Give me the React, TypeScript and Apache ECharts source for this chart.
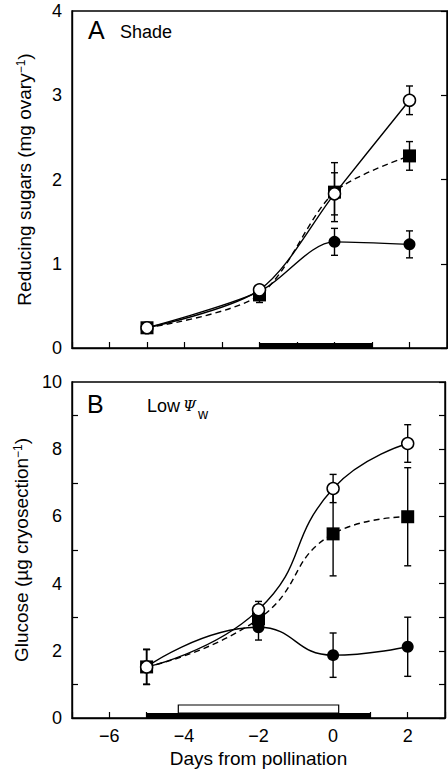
import React, { useEffect, useRef } from 'react';
import * as echarts from 'echarts';

// ---- Data ----
const days = [-5, -2, 0, 2];

// Panel A: Shade, reducing sugars (mg ovary^-1)
const shadeOpen = [0.24, 0.69, 1.83, 2.94];
const shadeOpenErr = [0.03, 0.05, 0.25, 0.17];
const shadeSquare = [0.24, 0.63, 1.85, 2.28];
const shadeSquareErr = [0.03, 0.09, 0.35, 0.17];
const shadeFilled = [0.24, 0.67, 1.26, 1.23];
const shadeFilledErr = [0.03, 0.05, 0.16, 0.16];

// Panel B: Low water potential, glucose (µg cryosection^-1)
const lowOpen = [1.52, 3.22, 6.83, 8.17];
const lowOpenErr = [0.52, 0.25, 0.42, 0.56];
const lowSquare = [1.52, 2.95, 5.48, 5.99];
const lowSquareErr = [0.52, 0.2, 1.25, 1.46];
const lowFilled = [1.52, 2.7, 1.87, 2.12];
const lowFilledErr = [0.52, 0.38, 0.66, 0.88];

// Treatment period bars [start, end] in days
const shadeBlackBar = [[-2, 1]];
const lowBlackBar = [[-5, 1]];
const lowWhiteBar = [[-4.15, 0.15]];

const xLabelValues = [-6, -4, -2, 0, 2];

const FONT = '"Liberation Sans", Arial, Helvetica, sans-serif';

function pts(ys: number[]) {
  return days.map((d, i) => [d, ys[i]]);
}
function errPts(ys: number[], es: number[]) {
  return days.map((d, i) => [d, ys[i], es[i]]);
}

const errorRender = (params: any, api: any) => {
  const x = api.value(0);
  const y = api.value(1);
  const e = api.value(2);
  const top = api.coord([x, y + e]);
  const bot = api.coord([x, y - e]);
  const hw = 3.5;
  const st = { stroke: '#000', lineWidth: 1.4 };
  return {
    type: 'group',
    children: [
      { type: 'line', shape: { x1: top[0], y1: top[1], x2: bot[0], y2: bot[1] }, style: st },
      { type: 'line', shape: { x1: top[0] - hw, y1: top[1], x2: top[0] + hw, y2: top[1] }, style: st },
      { type: 'line', shape: { x1: bot[0] - hw, y1: bot[1], x2: bot[0] + hw, y2: bot[1] }, style: st },
    ],
  };
};

const barRender = (offTop: number, offBot: number, fill: string) => (params: any, api: any) => {
  const p0 = api.coord([api.value(0), 0]);
  const p1 = api.coord([api.value(1), 0]);
  return {
    type: 'rect',
    shape: { x: p0[0], y: p0[1] - offTop, width: p1[0] - p0[0], height: offTop - offBot },
    style: { fill, stroke: '#000', lineWidth: fill === '#000' ? 0 : 1.2 },
  };
};

function seriesFor(idx: number, open: number[], oe: number[], sq: number[], se: number[], fi: number[], fe: number[], smooth: number) {
  const base = { xAxisIndex: idx, yAxisIndex: idx * 2 };
  const line = (data: number[], dashed: boolean) => ({
    ...base,
    type: 'line',
    data: pts(data),
    smooth,
    showSymbol: false,
    symbol: 'none',
    lineStyle: { color: '#000', width: 1.4, type: dashed ? [6, 4] : 'solid' },
    z: 2,
    silent: true,
  });
  const err = (ys: number[], es: number[]) => ({
    ...base,
    type: 'custom',
    data: errPts(ys, es),
    encode: { x: 0, y: 1 },
    renderItem: errorRender,
    z: 3,
    silent: true,
  });
  const mark = (data: number[], symbol: string, color: string, z: number) => ({
    ...base,
    type: 'scatter',
    data: pts(data),
    symbol,
    symbolSize: symbol === 'rect' ? 13 : 12,
    itemStyle: { color, borderColor: '#000', borderWidth: color === '#fff' ? 1.5 : 0, opacity: 1 },
    z,
    silent: true,
  });
  return [
    line(fi, false),
    line(sq, true),
    line(open, false),
    err(fi, fe),
    err(sq, se),
    err(open, oe),
    mark(fi, 'circle', '#000', 4),
    mark(sq, 'rect', '#000', 5),
    mark(open, 'circle', '#fff', 6),
  ];
}

const App: React.FC = () => {
  const ref = useRef<HTMLDivElement>(null);
  useEffect(() => {
    if (!ref.current) return;
    const chart = echarts.init(ref.current, null, { renderer: 'svg' });
    const grids = [
      { left: 72, top: 11, width: 375, height: 337 },
      { left: 72, top: 382, width: 375, height: 336 },
    ];
    const xAxisBase = (gi: number, showLabels: boolean) => ({
      type: 'value',
      gridIndex: gi,
      min: -7,
      max: 3,
      interval: 1,
      axisLine: { show: true, onZero: false, lineStyle: { color: '#000', width: 1.4 } },
      axisTick: { show: true, inside: true, length: 6, lineStyle: { color: '#000', width: 1.2 } },
      splitLine: { show: false },
      axisLabel: {
        show: showLabels,
        margin: 9,
        fontSize: 18,
        fontFamily: FONT,
        color: '#000',
        formatter: (v: number) =>
          xLabelValues.indexOf(v) >= 0 ? (v < 0 ? '\u2212' + Math.abs(v) : String(v)) : '',
      },
      name: showLabels ? 'Days from pollination' : '',
      nameLocation: 'middle',
      nameGap: 31,
      nameTextStyle: { fontSize: 19, fontFamily: FONT, color: '#000' },
    });
    const yLeft = (gi: number, max: number, interval: number, minor: boolean, nameMain: string) => ({
      type: 'value',
      gridIndex: gi,
      position: 'left',
      min: 0,
      max,
      interval,
      axisLine: { show: true, onZero: false, lineStyle: { color: '#000', width: 1.4 } },
      axisTick: { show: false, inside: true },
      minorTick: { show: minor, splitNumber: 2, length: 6, lineStyle: { color: '#000', width: 1.2 } },
      splitLine: { show: false },
      minorSplitLine: { show: false },
      axisLabel: { margin: 10, fontSize: 18, fontFamily: FONT, color: '#000' },
      name: '{n|' + nameMain + '}{s|\u22121}{n|)}',
      nameLocation: 'middle',
      nameGap: 38,
      nameTextStyle: {
        fontFamily: FONT,
        color: '#000',
        rich: {
          n: { fontSize: 19, fontFamily: FONT, color: '#000' },
          s: { fontSize: 12, fontFamily: FONT, color: '#000', verticalAlign: 'top' },
        },
      },
    });
    const yRight = (gi: number, max: number) => ({
      type: 'value',
      gridIndex: gi,
      position: 'right',
      min: 0,
      max,
      interval: 1,
      axisLine: { show: true, onZero: false, lineStyle: { color: '#000', width: 1.4 } },
      axisTick: { show: true, inside: true, length: 6, lineStyle: { color: '#000', width: 1.2 } },
      splitLine: { show: false },
      axisLabel: { show: false },
    });

    const option: any = {
      animation: false,
      backgroundColor: '#fff',
      grid: grids.map((g) => ({ ...g, show: true, borderColor: '#000', borderWidth: 1.4, backgroundColor: 'transparent' })),
      xAxis: [xAxisBase(0, false), xAxisBase(1, true)],
      yAxis: [
        yLeft(0, 4, 1, false, 'Reducing sugars (mg ovary'),
        yRight(0, 4),
        yLeft(1, 10, 2, true, 'Glucose (\u00b5g cryosection'),
        yRight(1, 10),
      ],
      graphic: [
        { type: 'text', x: 88, y: 30, style: { text: 'A', fontSize: 25, fontFamily: FONT, fill: '#000', verticalAlign: 'middle' } },
        { type: 'text', x: 120, y: 32, style: { text: 'Shade', fontSize: 18, fontFamily: FONT, fill: '#000', verticalAlign: 'middle' } },
        { type: 'text', x: 87, y: 404, style: { text: 'B', fontSize: 25, fontFamily: FONT, fill: '#000', verticalAlign: 'middle' } },
        { type: 'text', x: 147, y: 406, style: { text: 'Low', fontSize: 18, fontFamily: FONT, fill: '#000', verticalAlign: 'middle' } },
        { type: 'text', x: 183, y: 406, style: { text: '\u03a8', fontSize: 15, fontStyle: 'italic', fontFamily: '"DejaVu Serif", "Liberation Serif", serif', fill: '#000', verticalAlign: 'middle' } },
        { type: 'text', x: 198, y: 414, style: { text: 'w', fontSize: 14, fontFamily: FONT, fill: '#000', verticalAlign: 'middle' } },
      ],
      series: [
        ...seriesFor(0, shadeOpen, shadeOpenErr, shadeSquare, shadeSquareErr, shadeFilled, shadeFilledErr, 0.3),
        ...seriesFor(1, lowOpen, lowOpenErr, lowSquare, lowSquareErr, lowFilled, lowFilledErr, 0.5),
        {
          type: 'custom',
          xAxisIndex: 0,
          yAxisIndex: 0,
          data: shadeBlackBar.map((b) => [b[0], b[1], 0]),
          encode: { x: [0, 1], y: 2 },
          renderItem: barRender(5, 0, '#000'),
          clip: false,
          z: 7,
          silent: true,
        },
        {
          type: 'custom',
          xAxisIndex: 1,
          yAxisIndex: 2,
          data: lowBlackBar.map((b) => [b[0], b[1], 0]),
          encode: { x: [0, 1], y: 2 },
          renderItem: barRender(5, 0, '#000'),
          clip: false,
          z: 7,
          silent: true,
        },
        {
          type: 'custom',
          xAxisIndex: 1,
          yAxisIndex: 2,
          data: lowWhiteBar.map((b) => [b[0], b[1], 0]),
          encode: { x: [0, 1], y: 2 },
          renderItem: barRender(13, 5, '#fff'),
          clip: false,
          z: 7,
          silent: true,
        },
      ],
    };
    chart.setOption(option);
    return () => chart.dispose();
  }, []);
  return <div ref={ref} style={{ position: 'absolute', left: 0, top: 0, width: 448, height: 770 }} />;
};

export default App;
